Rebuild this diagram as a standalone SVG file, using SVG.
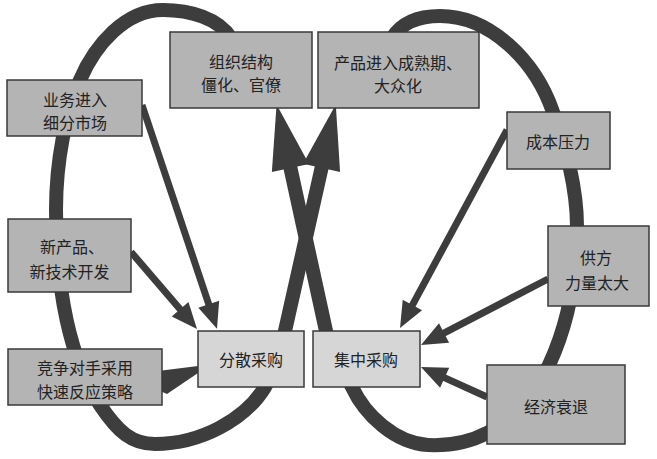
<svg xmlns="http://www.w3.org/2000/svg" width="657" height="459" viewBox="0 0 657 459">
  <style>
    .loop { fill: none; stroke: #3d3d3d; stroke-width: 14; }
    .link { fill: none; stroke: #3d3d3d; stroke-width: 7; }
    .wedge { fill: #3d3d3d; stroke: none; }
    .box { fill: #b4b4b4; stroke: #3a3a3a; stroke-width: 1.5; }
    .box.light { fill: #d6d6d6; }
    text { font-family: "Noto Sans CJK SC", "Noto Sans", sans-serif; font-size: 16px; fill: #222; text-anchor: middle; dominant-baseline: central; }
  </style>
  <defs>
    <marker id="bigHead" markerUnits="userSpaceOnUse" markerWidth="70" markerHeight="40" refX="2" refY="20" orient="auto" overflow="visible">
      <path d="M0,1 L65,20 L0,39 Z" fill="#3d3d3d"/>
    </marker>
    <marker id="head" markerUnits="userSpaceOnUse" markerWidth="28" markerHeight="24" refX="4" refY="11" orient="auto" overflow="visible">
      <path d="M0,0 L26,11 L0,22 Z" fill="#3d3d3d"/>
    </marker>
  </defs>

  <g id="connectors">
    <!-- left loop: round the left side, up through 分散采购 to 产品进入成熟期 -->
    <path class="loop" marker-end="url(#bigHead)"
      d="M231,38 C218,18 190,10 163,10 C125,10 95,45 80,80 C66,112 56,160 56,210 C56,290 70,360 100,405 C118,432 132,444 155,444 C200,444 245,420 265,387 C275,370 281,350 285,331 L322,166"/>
    <!-- right loop: round the right side, up through 集中采购 to 组织结构 -->
    <path class="loop" marker-end="url(#bigHead)"
      d="M392,38 C402,22 418,16 440,16 C490,16 535,60 553,112 C566,145 577,190 577,226 C577,290 563,335 549,365 C530,400 510,422 487,433 C470,442 450,446 428,445 C395,443 365,415 352,387 C340,365 330,350 326,331 L290,166"/>

    <!-- causes of 分散采购 -->
    <path class="link" marker-end="url(#head)" d="M142,105 L210,308"/>
    <path class="link" marker-end="url(#head)" d="M131,252 L182.7,312.3"/>
    <!-- 分散采购 to 竞争对手 -->
    <path class="wedge" d="M198,366 L198,373 L167,394 L158,390 L158,371 Z"/>

    <!-- causes of 集中采购 -->
    <path class="link" marker-end="url(#head)" d="M507,130 L410.5,308.6"/>
    <path class="link" marker-end="url(#head)" d="M548,279 L440.5,334.9"/>
    <path class="link" marker-end="url(#head)" d="M487,397 L441,376.1"/>
  </g>

  <g id="node-org">
    <rect class="box" x="170" y="32" width="142" height="76"/>
    <text x="241" y="61">组织结构</text>
    <text x="241" y="84">僵化、官僚</text>
  </g>
  <g id="node-product">
    <rect class="box" x="318" y="32" width="161" height="76"/>
    <text x="398" y="62">产品进入成熟期、</text>
    <text x="398" y="85">大众化</text>
  </g>
  <g id="node-segment">
    <rect class="box" x="7" y="80" width="135" height="56"/>
    <text x="75" y="99">业务进入</text>
    <text x="75" y="122">细分市场</text>
  </g>
  <g id="node-newtech">
    <rect class="box" x="8" y="219" width="123" height="73"/>
    <text x="72" y="246">新产品、</text>
    <text x="69.5" y="271">新技术开发</text>
  </g>
  <g id="node-rival">
    <rect class="box" x="8" y="349" width="154" height="56"/>
    <text x="85" y="367">竞争对手采用</text>
    <text x="85" y="391">快速反应策略</text>
  </g>
  <g id="node-decentral">
    <rect class="box light" x="198" y="331" width="106" height="56"/>
    <text x="251" y="359">分散采购</text>
  </g>
  <g id="node-central">
    <rect class="box light" x="313" y="331" width="107" height="56"/>
    <text x="366" y="359">集中采购</text>
  </g>
  <g id="node-cost">
    <rect class="box" x="507" y="112" width="103" height="57"/>
    <text x="558" y="141">成本压力</text>
  </g>
  <g id="node-supplier">
    <rect class="box" x="548" y="226" width="101" height="80"/>
    <text x="596" y="257">供方</text>
    <text x="597" y="282">力量太大</text>
  </g>
  <g id="node-recession">
    <rect class="box" x="487" y="365" width="138" height="79"/>
    <text x="556" y="406">经济衰退</text>
  </g>
</svg>
